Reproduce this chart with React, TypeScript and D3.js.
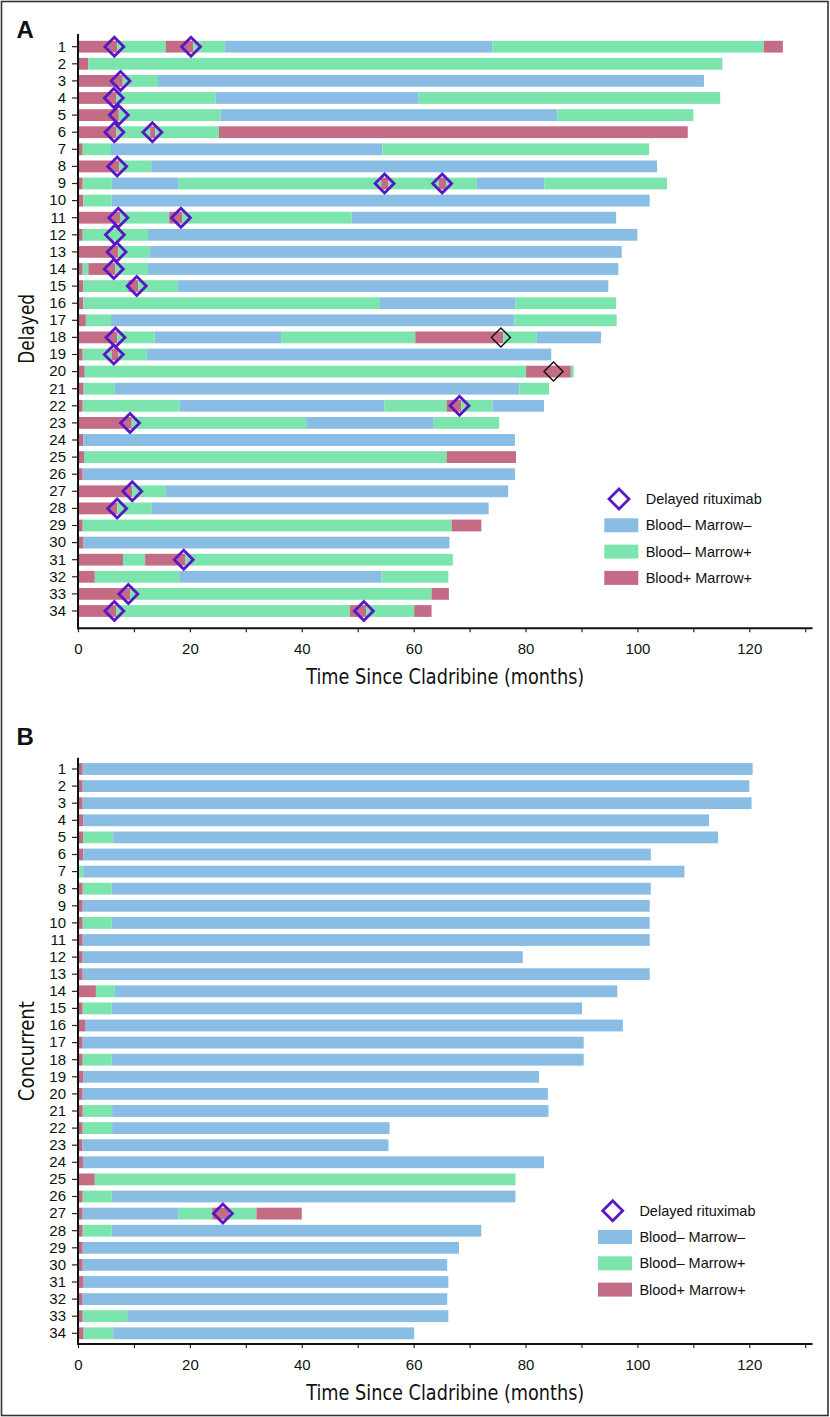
import React, { useEffect, useRef } from "react";
import * as d3 from "d3";

// ---------- DATA ----------
type St = "N" | "M" | "B";
type Seg = [St, number];

// States: N = Blood– Marrow–, M = Blood– Marrow+, B = Blood+ Marrow+
const stateKeys: St[] = ["N", "M", "B"];
const legendLabels = ["Blood\u2013 Marrow\u2013", "Blood\u2013 Marrow+", "Blood+ Marrow+"];
const diamondLabel = "Delayed rituximab";
const patientIds = d3.range(1, 35);
const xTickValues = d3.range(0, 131, 10);
const xLabelValues = [0, 20, 40, 60, 80, 100, 120];

// Panel A: delayed rituximab — each patient's sequence of [state, end month]
const delayedTimelines: Seg[][] = [
  [["B", 7.0], ["M", 15.7], ["B", 20.6], ["M", 26.3], ["N", 74.1], ["M", 122.6], ["B", 126.0]],
  [["B", 1.85], ["M", 115.2]],
  [["B", 8.0], ["M", 14.3], ["N", 111.9]],
  [["B", 6.8], ["M", 24.6], ["N", 60.9], ["M", 114.8]],
  [["B", 7.3], ["M", 25.5], ["N", 85.7], ["M", 110.0]],
  [["B", 6.9], ["M", 12.9], ["B", 13.8], ["M", 25.2], ["B", 109.0]],
  [["B", 0.84], ["M", 5.9], ["N", 54.4], ["M", 102.1]],
  [["B", 7.4], ["M", 13.1], ["N", 103.5]],
  [["B", 0.84], ["M", 6.0], ["N", 18.0], ["M", 54.2], ["B", 55.5], ["M", 64.5], ["B", 65.8], ["M", 71.3], ["N", 83.4], ["M", 105.3]],
  [["B", 0.95], ["M", 6.0], ["N", 102.2]],
  [["B", 7.5], ["M", 16.3], ["B", 18.6], ["M", 48.9], ["N", 96.2]],
  [["B", 0.84], ["M", 12.5], ["N", 100.0]],
  [["B", 7.2], ["M", 12.9], ["N", 97.2]],
  [["B", 0.84], ["M", 1.85], ["B", 6.7], ["M", 12.5], ["N", 96.6]],
  [["B", 0.95], ["M", 9.0], ["B", 10.8], ["M", 17.9], ["N", 94.8]],
  [["B", 0.95], ["M", 54.0], ["N", 78.2], ["M", 96.2]],
  [["B", 1.4], ["M", 5.9], ["N", 78.0], ["M", 96.3]],
  [["B", 7.0], ["M", 13.7], ["N", 36.3], ["M", 60.3], ["B", 76.0], ["M", 82.0], ["N", 93.5]],
  [["B", 0.84], ["M", 6.0], ["B", 7.2], ["M", 12.3], ["N", 84.6]],
  [["B", 1.2], ["M", 80.1], ["B", 88.1], ["M", 88.6]],
  [["B", 1.0], ["M", 6.6], ["N", 78.9], ["M", 84.2]],
  [["B", 0.84], ["M", 18.2], ["N", 54.8], ["M", 65.9], ["B", 68.5], ["M", 74.1], ["N", 83.3]],
  [["B", 9.6], ["M", 40.8], ["N", 63.6], ["M", 75.3]],
  [["B", 0.95], ["N", 78.1]],
  [["B", 1.07], ["M", 65.9], ["B", 78.3]],
  [["B", 0.84], ["N", 78.1]],
  [["B", 9.7], ["M", 15.7], ["N", 76.9]],
  [["B", 7.0], ["M", 13.2], ["N", 73.4]],
  [["B", 0.84], ["M", 66.8], ["B", 72.1]],
  [["B", 1.0], ["N", 66.4]],
  [["B", 8.05], ["M", 12.0], ["B", 19.2], ["M", 67.0]],
  [["B", 3.0], ["M", 18.1], ["N", 54.2], ["M", 66.2]],
  [["B", 9.3], ["M", 63.2], ["B", 66.3]],
  [["B", 6.8], ["M", 48.6], ["B", 51.5], ["M", 60.1], ["B", 63.2]],
];

// [patient, month] of delayed rituximab (purple) and unlabeled black markers
const delayedRituximabA: [number, number][] = [
  [1, 6.5], [1, 20.2], [3, 7.6], [4, 6.4], [5, 7.3], [6, 6.5], [6, 13.3], [8, 7.0],
  [9, 54.8], [9, 65.1], [11, 7.2], [11, 18.4], [12, 6.6], [13, 6.9], [14, 6.4],
  [15, 10.5], [18, 6.7], [19, 6.4], [22, 68.2], [23, 9.3], [27, 9.7], [28, 7.0],
  [31, 18.9], [33, 9.0], [34, 6.5], [34, 51.1],
];
const blackMarkersA: [number, number][] = [[18, 75.6], [20, 85.0]];

// Panel B: concurrent rituximab
const concurrentTimelines: Seg[][] = [
  [["B", 0.84], ["N", 120.6]],
  [["B", 0.84], ["N", 120.0]],
  [["B", 0.84], ["N", 120.4]],
  [["B", 0.95], ["N", 112.8]],
  [["B", 0.9], ["M", 6.3], ["N", 114.4]],
  [["B", 0.95], ["N", 102.4]],
  [["M", 0.95], ["N", 108.4]],
  [["B", 0.84], ["M", 6.0], ["N", 102.4]],
  [["B", 0.84], ["N", 102.2]],
  [["B", 0.84], ["M", 6.0], ["N", 102.2]],
  [["B", 0.84], ["N", 102.2]],
  [["B", 0.84], ["N", 79.5]],
  [["B", 0.84], ["N", 102.2]],
  [["B", 3.2], ["M", 6.6], ["N", 96.4]],
  [["B", 0.84], ["M", 6.0], ["N", 90.1]],
  [["B", 1.25], ["N", 97.4]],
  [["B", 0.84], ["N", 90.4]],
  [["B", 0.84], ["M", 6.0], ["N", 90.4]],
  [["B", 1.0], ["N", 82.4]],
  [["B", 0.84], ["N", 84.0]],
  [["B", 0.84], ["M", 6.1], ["N", 84.1]],
  [["B", 0.84], ["M", 6.1], ["N", 55.7]],
  [["B", 0.78], ["N", 55.5]],
  [["B", 0.9], ["N", 83.3]],
  [["B", 3.0], ["M", 78.2]],
  [["B", 0.84], ["M", 6.0], ["N", 78.2]],
  [["B", 0.84], ["N", 18.0], ["M", 24.0], ["B", 27.0], ["M", 31.9], ["B", 40.0]],
  [["B", 0.84], ["M", 6.0], ["N", 72.1]],
  [["B", 0.84], ["N", 68.1]],
  [["B", 0.84], ["N", 66.0]],
  [["B", 1.0], ["N", 66.2]],
  [["B", 0.84], ["N", 66.0]],
  [["B", 0.84], ["M", 8.8], ["N", 66.2]],
  [["B", 1.0], ["M", 6.3], ["N", 60.1]],
];
const delayedRituximabB: [number, number][] = [[27, 25.9]];

// ---------- STYLE ----------
const COLORS: Record<St, string> = { N: "#89bde4", M: "#7be5ad", B: "#c46b85" };
const PURPLE = "#5a17c6";
const FONT = "'Liberation Sans', Arial, Helvetica, sans-serif";
const NARROW = "'Liberation Sans Narrow', 'DejaVu Sans Condensed', 'Arial Narrow', 'Liberation Sans', sans-serif";
const W = 830;
const H = 1417;

const x = d3.scaleLinear().domain([0, 131.3]).range([78, 812.5]);
const STEP = 17.1;

type PanelCfg = {
  letter: string;
  letterY: number;
  yLabel: string;
  yLabelLen: number;
  yTop: number;
  axisY: number;
  row1: number;
  legendX: number;
  legendY: number;
  data: Seg[][];
  diamonds: [number, number][];
  black: [number, number][];
};

const panels: PanelCfg[] = [
  {
    letter: "A", letterY: 38.3, yLabel: "Delayed", yLabelLen: 70, yTop: 34, axisY: 628.3, row1: 46.7,
    legendX: 604.3, legendY: 499, data: delayedTimelines, diamonds: delayedRituximabA, black: blackMarkersA,
  },
  {
    letter: "B", letterY: 745, yLabel: "Concurrent", yLabelLen: 100, yTop: 757.7, axisY: 1344, row1: 769,
    legendX: 598, legendY: 1210.7, data: concurrentTimelines, diamonds: delayedRituximabB, black: [],
  },
];

function diamondPath(cx: number, cy: number, r: number) {
  return `M${cx},${cy - r}L${cx + r},${cy}L${cx},${cy + r}L${cx - r},${cy}Z`;
}

function XAxis({ y }: { y: number }) {
  const ref = useRef<SVGGElement>(null);
  useEffect(() => {
    const g = d3.select(ref.current!);
    g.call(
      d3
        .axisBottom(x)
        .tickValues(xTickValues)
        .tickFormat((d) => (xLabelValues.includes(+d) ? String(d) : ""))
        .tickSize(4)
        .tickSizeOuter(0)
        .tickPadding(11) as any
    );
    g.select(".domain").remove();
    g.attr("font-size", 15).attr("font-family", FONT);
    g.selectAll(".tick line").attr("stroke", "#222").attr("stroke-width", 1.2);
    g.selectAll(".tick text").attr("fill", "#111");
  }, [y]);
  return <g ref={ref} transform={`translate(0,${y})`} />;
}

function YAxis({ scale }: { scale: d3.ScaleBand<number> }) {
  const ref = useRef<SVGGElement>(null);
  useEffect(() => {
    const g = d3.select(ref.current!);
    g.call(d3.axisLeft(scale).tickSize(6).tickPadding(6) as any);
    g.select(".domain").remove();
    g.attr("font-size", 15).attr("font-family", FONT);
    g.selectAll(".tick line").attr("stroke", "#222").attr("stroke-width", 1.2);
    g.selectAll(".tick text").attr("fill", "#111");
  }, [scale]);
  return <g ref={ref} transform={`translate(78,0)`} />;
}

function Panel({ cfg }: { cfg: PanelCfg }) {
  const y = d3
    .scaleBand<number>()
    .domain(patientIds)
    .range([cfg.row1 - STEP / 2, cfg.row1 + 33 * STEP + STEP / 2])
    .paddingInner(0.31)
    .paddingOuter(0.155);
  const bw = y.bandwidth();
  const midY = (y(1)! + y(34)! + bw) / 2;

  return (
    <g>
      <text x={16.5} y={cfg.letterY} fontFamily={FONT} fontWeight="bold" fontSize={24} fill="#111">
        {cfg.letter}
      </text>
      {/* bars */}
      {cfg.data.map((segs, i) => {
        let start = 0;
        return (
          <g key={i}>
            {segs.map(([st, end], j) => {
              const s = start;
              start = end;
              return (
                <rect
                  key={j}
                  x={x(s)}
                  y={y(i + 1)}
                  width={Math.max(0, x(end) - x(s))}
                  height={bw}
                  fill={COLORS[st]}
                />
              );
            })}
          </g>
        );
      })}
      {/* markers */}
      {cfg.diamonds.map(([p, m], i) => (
        <path
          key={"d" + i}
          d={diamondPath(x(m), y(p)! + bw / 2, 9.5)}
          fill="none"
          stroke={PURPLE}
          strokeWidth={2.8}
        />
      ))}
      {cfg.black.map(([p, m], i) => (
        <path
          key={"b" + i}
          d={diamondPath(x(m), y(p)! + bw / 2, 9.5)}
          fill="none"
          stroke="#111"
          strokeWidth={1.4}
        />
      ))}
      {/* axes */}
      <YAxis scale={y} />
      <XAxis y={cfg.axisY} />
      <line x1={78} x2={78} y1={cfg.yTop} y2={cfg.axisY + 1} stroke="#111" strokeWidth={2} />
      <line x1={77} x2={x(131.3)} y1={cfg.axisY} y2={cfg.axisY} stroke="#111" strokeWidth={2} />
      {/* axis titles */}
      <text
        x={(x(0) + x(131.3)) / 2}
        y={cfg.axisY + 56}
        textAnchor="middle"
        fontFamily={NARROW}
        fontSize={21}
        textLength={278}
        lengthAdjust="spacingAndGlyphs"
        fill="#111"
      >
        Time Since Cladribine (months)
      </text>
      <text
        transform={`translate(33.5,${midY}) rotate(-90)`}
        textAnchor="middle"
        fontFamily={NARROW}
        fontSize={21}
        textLength={cfg.yLabelLen}
        lengthAdjust="spacingAndGlyphs"
        fill="#111"
      >
        {cfg.yLabel}
      </text>
      {/* legend */}
      <g fontFamily={FONT} fontSize={14.5} fill="#111">
        <path
          d={diamondPath(cfg.legendX + 14.7, cfg.legendY, 10)}
          fill="none"
          stroke={PURPLE}
          strokeWidth={2.8}
        />
        <text x={cfg.legendX + 41.4} y={cfg.legendY + 5}>
          {diamondLabel}
        </text>
        {stateKeys.map((k, i) => {
          const cy = cfg.legendY + 26.3 * (i + 1);
          return (
            <g key={k}>
              <rect x={cfg.legendX} y={cy - 7} width={34} height={14} fill={COLORS[k]} />
              <text x={cfg.legendX + 41.4} y={cy + 5}>
                {legendLabels[i]}
              </text>
            </g>
          );
        })}
      </g>
    </g>
  );
}

export default function App() {
  return (
    <svg
      width={W}
      height={H}
      viewBox={`0 0 ${W} ${H}`}
      style={{ position: "absolute", left: 0, top: 0, background: "#fff" }}
    >
      <rect x={0} y={0} width={W} height={H} fill="#fff" />
      {panels.map((p) => (
        <Panel key={p.letter} cfg={p} />
      ))}
      <rect x={1.5} y={1.5} width={826.5} height={1414} fill="none" stroke="#333" strokeWidth={1.6} />
    </svg>
  );
}
